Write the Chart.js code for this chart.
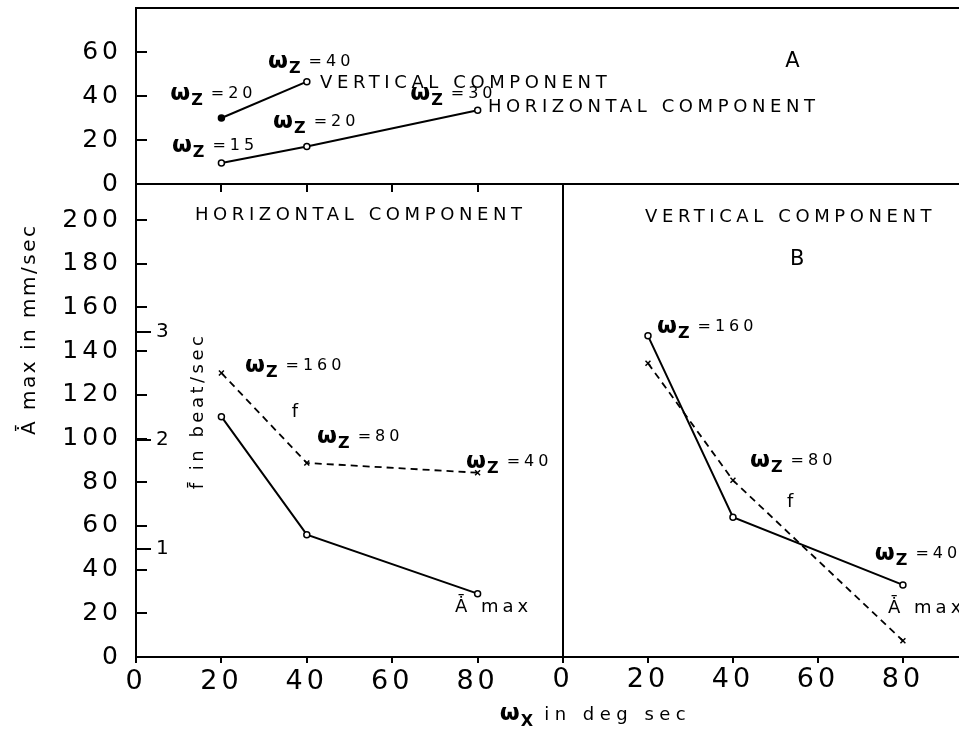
<!DOCTYPE html>
<html>
<head>
<meta charset="utf-8">
<script src="https://cdn.jsdelivr.net/npm/chart.js@4.4.1/dist/chart.umd.min.js"></script>
<style>
    body { margin: 0; background: #fff; overflow: hidden; }
    #wrap { position: relative; width: 959px; height: 729px; }
    #wrap canvas { position: absolute; left: 0; top: 0; }
</style>
</head>
<body>
<div id="wrap">
    <canvas id="panel-a" width="959" height="729"></canvas>
    <canvas id="panel-h" width="959" height="729"></canvas>
    <canvas id="panel-v" width="959" height="729"></canvas>
</div>
<script>
// omega x (deg/sec) for every series
let omega_x = [20, 40, 80]
let omega_x_top_vertical = [20, 40]

// panel A
let top_vertical = [30, 46.5]
let top_horizontal = [9.5, 17, 33.5]

// panel B, horizontal component
let horizontal_a_max = [110, 56, 29]
let horizontal_f = [2.62, 1.79, 1.70]

// panel B, vertical component
let vertical_a_max = [147, 64, 33]
let vertical_f = [2.71, 1.63, 0.15]

// tick labels
let x_ticks = [0, 20, 40, 60, 80]
let top_x_ticks = [20, 40, 60, 80]
let top_a_ticks = [0, 20, 40, 60]
let a_ticks = [0, 20, 40, 60, 80, 100, 120, 140, 160, 180, 200]
let f_ticks = [1, 2, 3]

const FONT = "'DejaVu Sans', sans-serif"
const A_MAX = "\u0226\u0304"

Chart.defaults.color = "#000"
Chart.defaults.font.family = FONT

// text notes, placed in the value space of each panel
let top_notes = [
    {x: 8.0, y: 38.2, omega: "Z", value: "20"},
    {x: 30.9, y: 52.7, omega: "Z", value: "40"},
    {x: 43.1, y: 43.6, text: "VERTICAL COMPONENT"},
    {x: 32.1, y: 25.5, omega: "Z", value: "20"},
    {x: 8.4, y: 14.5, omega: "Z", value: "15"},
    {x: 64.2, y: 38.2, omega: "Z", value: "30"},
    {x: 82.4, y: 32.7, text: "HORIZONTAL COMPONENT"},
    {x: 152, y: 53.2, text: "A", size: 21}
]

let horizontal_notes = [
    {x: 13.8, y: 200, text: "HORIZONTAL COMPONENT"},
    {x: 25.5, y: 130.4, omega: "Z", value: "160"},
    {x: 36.5, y: 109.8, text: "f"},
    {x: 42.4, y: 98, omega: "Z", value: "80"},
    {x: 77.3, y: 86.5, omega: "Z", value: "40"},
    {x: 74.7, y: 20.6, text: A_MAX + " max", spacing: 4}
]

let vertical_notes = [
    {x: 19.3, y: 199, text: "VERTICAL COMPONENT"},
    {x: 53.4, y: 179.4, text: "B", size: 21},
    {x: 22.1, y: 148.3, omega: "Z", value: "160"},
    {x: 44.0, y: 87, omega: "Z", value: "80"},
    {x: 52.7, y: 68.6, text: "f"},
    {x: 73.4, y: 44.4, omega: "Z", value: "40"},
    {x: 76.5, y: 20.1, text: A_MAX + " max", spacing: 4}
]

function draw_omega(ctx, px, py, sub, value) {
    ctx.letterSpacing = "0px"
    ctx.font = "bold 23px " + FONT
    ctx.fillText("\u03c9", px, py)
    let w = ctx.measureText("\u03c9").width
    ctx.font = "bold 16px " + FONT
    ctx.fillText(sub, px + w + 1, py + 5)
    let wz = ctx.measureText(sub).width
    if (value) {
        ctx.font = "16px " + FONT
        ctx.letterSpacing = "4px"
        ctx.fillText("=" + value, px + w + wz + 9, py - 2)
    }
}

function draw_text(ctx, text, px, py, size, spacing) {
    ctx.font = size + "px " + FONT
    ctx.letterSpacing = spacing + "px"
    ctx.fillText(text, px, py)
}

function notes_plugin(notes, extra) {
    return {
        id: "notes",
        beforeDraw: function(chart) {
            chart.ctx.letterSpacing = "4px"
        },
        afterDraw: function(chart) {
            let ctx = chart.ctx
            ctx.save()
            ctx.fillStyle = "#000"
            ctx.textAlign = "left"
            ctx.textBaseline = "alphabetic"
            for (let i = 0; i < notes.length; i++) {
                let n = notes[i]
                let px = chart.scales.x.getPixelForValue(n.x)
                let py = chart.scales.y.getPixelForValue(n.y)
                if (n.omega) {
                    draw_omega(ctx, px, py, n.omega, n.value)
                } else {
                    draw_text(ctx, n.text, px, py, n.size || 18, n.spacing || 4.6)
                }
            }
            if (extra) extra(chart, ctx)
            ctx.restore()
            ctx.letterSpacing = "0px"
        }
    }
}

// axis titles live on the horizontal-component panel
function axis_titles(chart, ctx) {
    let area = chart.chartArea
    let y = chart.scales.y
    let yf = chart.scales.yf

    ctx.save()
    ctx.translate(area.left - 101, y.getPixelForValue(150))
    ctx.rotate(-Math.PI / 2)
    ctx.textAlign = "center"
    draw_text(ctx, A_MAX + " max in mm/sec", 0, 0, 20, 2.5)
    ctx.restore()

    ctx.save()
    ctx.translate(area.left + 67, yf.getPixelForValue(2.27))
    ctx.rotate(-Math.PI / 2)
    ctx.textAlign = "center"
    draw_text(ctx, "f\u0304 in beat/sec", 0, 0, 18, 3.5)
    ctx.restore()

    let px = chart.scales.x.getPixelForValue(85.2)
    let py = area.bottom + 63
    ctx.letterSpacing = "0px"
    ctx.font = "bold 23px " + FONT
    ctx.fillText("\u03c9", px, py)
    let w = ctx.measureText("\u03c9").width
    ctx.font = "bold 16px " + FONT
    ctx.fillText("X", px + w + 1, py + 6)
    let wx = ctx.measureText("X").width
    draw_text(ctx, "in deg sec", px + w + wx + 12, py, 18, 5.5)
}

function points(xs, ys) {
    return xs.map((x, i) => ({x: x, y: ys[i]}))
}

function a_max_set(xs, ys, fill) {
    return {
        data: points(xs, ys),
        yAxisID: "y",
        showLine: true,
        borderColor: "#000",
        borderWidth: 2,
        pointStyle: "circle",
        pointRadius: 3,
        pointBorderWidth: 1.5,
        pointBorderColor: "#000",
        pointBackgroundColor: fill || "#fff"
    }
}

function f_set(xs, ys) {
    return {
        data: points(xs, ys),
        yAxisID: "yf",
        showLine: true,
        borderColor: "#000",
        borderWidth: 1.8,
        borderDash: [7, 5],
        pointStyle: "crossRot",
        pointRadius: 3.5,
        pointBorderWidth: 1.5,
        pointBorderColor: "#000"
    }
}

function fixed_ticks(list) {
    return function(axis) {
        axis.ticks = list.map(v => ({value: v}))
    }
}

// fixed axis width, and no label overflow padding pushed onto the chart area
function fixed_width(w) {
    return function(axis) {
        axis.width = w
        axis.paddingTop = 0
        axis.paddingBottom = 0
    }
}

let black_border = {display: true, color: "#000", width: 2}

function bottom_axis(max, padding) {
    return {
        type: "linear", position: "bottom", min: 0, max: max,
        afterBuildTicks: fixed_ticks(x_ticks),
        afterFit: function(axis) {
            axis.height = 40
            axis.paddingLeft = 0
            axis.paddingRight = 0
        },
        ticks: {font: {size: 27}, padding: padding, maxRotation: 0},
        grid: {drawOnChartArea: false, drawTicks: true, tickLength: 6, color: "#000", lineWidth: 2},
        border: black_border
    }
}

let base_options = {
    responsive: false,
    animation: false,
    events: [],
    plugins: {legend: {display: false}, tooltip: {enabled: false}}
}

// Panel A
new Chart("panel-a", {
    type: "scatter",
    data: {
        datasets: [
            a_max_set(omega_x_top_vertical, top_vertical, ["#000", "#fff"]),
            a_max_set(omega_x, top_horizontal)
        ]
    },
    options: Object.assign({}, base_options, {
        layout: {autoPadding: false, padding: {left: 0, top: 8, right: 0, bottom: 529}},
        scales: {
            x: {
                type: "linear", position: "bottom", min: 0, max: 192.7,
                afterBuildTicks: fixed_ticks(top_x_ticks),
                afterFit: function(axis) { axis.height = 16 },
                ticks: {display: false},
                grid: {drawOnChartArea: false, drawTicks: true, tickLength: 8, color: "#000", lineWidth: 2},
                border: black_border
            },
            x2: {
                type: "linear", position: "top", min: 0, max: 192.7,
                afterFit: function(axis) { axis.height = 0 },
                ticks: {display: false},
                grid: {display: false},
                border: black_border
            },
            y: {
                type: "linear", position: "left", min: 0, max: 80,
                afterBuildTicks: fixed_ticks(top_a_ticks),
                afterFit: fixed_width(136),
                ticks: {font: {size: 25}, padding: 25},
                grid: {drawOnChartArea: false, drawTicks: true, tickLength: -11, color: "#000", lineWidth: 2},
                border: black_border
            }
        }
    }),
    plugins: [notes_plugin(top_notes)]
})

// Panel B, horizontal component
new Chart("panel-h", {
    type: "scatter",
    data: {
        datasets: [
            a_max_set(omega_x, horizontal_a_max),
            f_set(omega_x, horizontal_f)
        ]
    },
    options: Object.assign({}, base_options, {
        layout: {autoPadding: false, padding: {left: 0, top: 184, right: 396, bottom: 32}},
        scales: {
            x: bottom_axis(100, 3),
            y: {
                type: "linear", position: "left", weight: 1, min: 0, max: 216.5,
                afterBuildTicks: fixed_ticks(a_ticks),
                afterFit: fixed_width(136),
                ticks: {font: {size: 25}, padding: 25},
                grid: {drawOnChartArea: false, drawTicks: true, tickLength: -11, color: "#000", lineWidth: 2},
                border: black_border
            },
            yf: {
                type: "linear", position: "left", weight: 0, min: 0, max: 4.363,
                afterBuildTicks: fixed_ticks(f_ticks),
                afterFit: fixed_width(0),
                ticks: {font: {size: 20}, padding: 20, mirror: true},
                grid: {drawOnChartArea: false, drawTicks: true, tickLength: -15, color: "#000", lineWidth: 2},
                border: {display: false}
            }
        }
    }),
    plugins: [notes_plugin(horizontal_notes, axis_titles)]
})

// Panel B, vertical component
new Chart("panel-v", {
    type: "scatter",
    data: {
        datasets: [
            a_max_set(omega_x, vertical_a_max),
            f_set(omega_x, vertical_f)
        ]
    },
    options: Object.assign({}, base_options, {
        layout: {autoPadding: false, padding: {left: 563, top: 184, right: 0, bottom: 32}},
        scales: {
            x: bottom_axis(93.2, 1),
            y: {
                type: "linear", position: "left", min: 0, max: 216.5,
                afterFit: fixed_width(0),
                ticks: {display: false},
                grid: {display: false},
                border: black_border
            },
            yf: {
                type: "linear", position: "left", display: false, min: 0, max: 4.363
            }
        }
    }),
    plugins: [notes_plugin(vertical_notes)]
})
</script>
</body>
</html>
